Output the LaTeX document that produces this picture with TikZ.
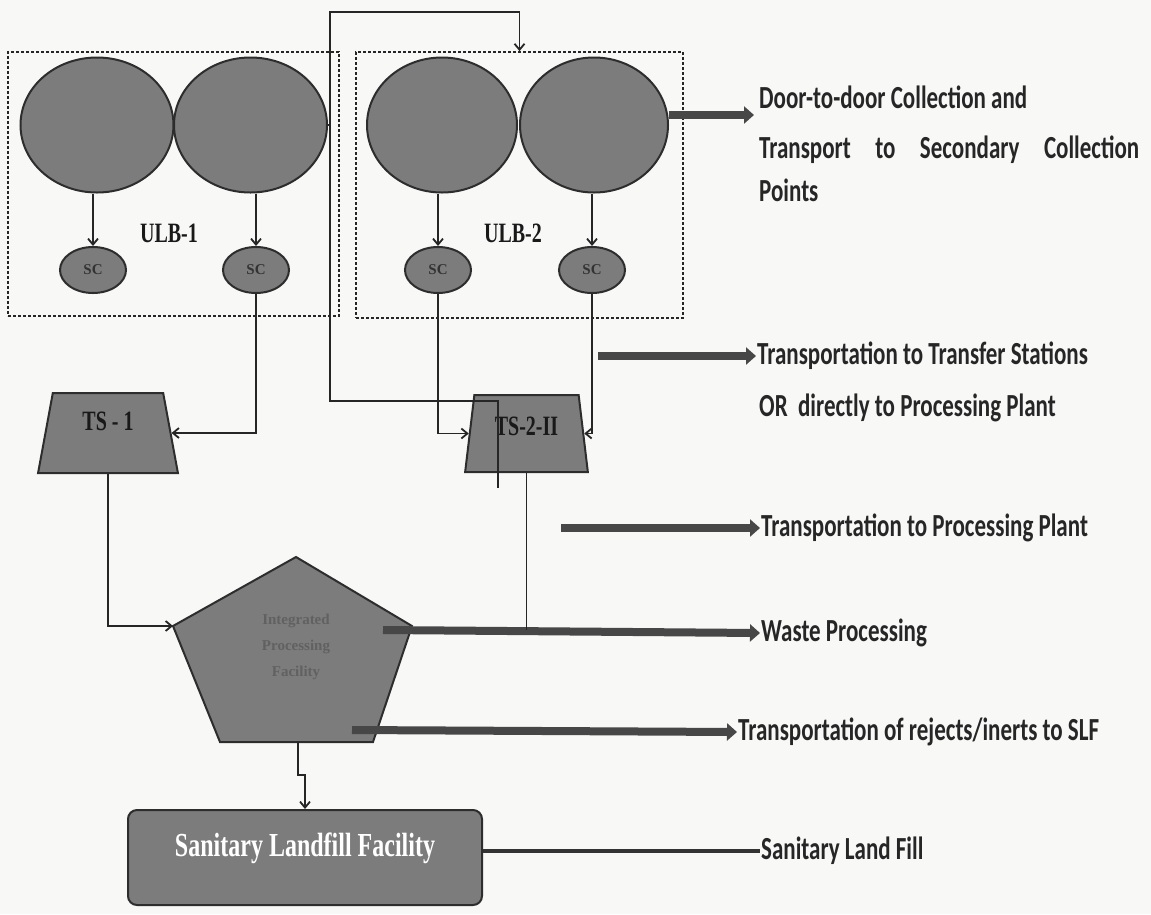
\documentclass[tikz,border=0pt]{standalone}
\usepackage{fontspec}
\setmainfont{Liberation Serif}
\newfontfamily\notefont{Carlito}
\usetikzlibrary{arrows.meta,shapes.geometric,positioning}
\definecolor{paper}{RGB}{248,248,247}
\definecolor{blobfill}{RGB}{124,124,124}
\definecolor{blobedge}{RGB}{45,45,45}
\newcommand{\tall}[1]{\scalebox{1}[1.4]{#1}}

\begin{document}
\begin{tikzpicture}[x=1pt, y=-1pt,
    blob/.style={draw=blobedge, line width=2pt, fill=blobfill},
    house/.style={blob, ellipse, minimum width=153pt, minimum height=135pt, inner sep=0pt},
    sc/.style={blob, ellipse, minimum width=66pt, minimum height=46pt, inner sep=0pt,
      text=black!80, font=\bfseries\fontsize{15}{15}\selectfont},
    ts/.style={blob, trapezium, trapezium stretches=true, trapezium angle=81, inner sep=2pt,
      text=black!90, font=\bfseries\fontsize{20}{20}\selectfont},
    ulbbox/.style={draw=black!85, line width=1.7pt, dash pattern=on 3pt off 2pt, inner sep=0pt},
    feed/.style={draw=black!85, line width=1.8pt, -{Straight Barb[length=6pt, width=10pt]}},
    wire/.style={draw=black!85, line width=1.8pt},
    bigarrow/.style={draw=black!72, line width=8pt, -{Triangle[length=10pt, width=17pt]}},
    note/.style={anchor=west, inner sep=1pt, text=black!85,
      font=\notefont\bfseries\fontsize{23}{23}\selectfont},
    tag/.style={inner sep=1pt, text=black!90, font=\bfseries\fontsize{20}{20}\selectfont}
  ]
  % the paper
  \fill[paper] (0,0) rectangle (1151,914);
  % the two ULB groups
  \node[ulbbox, minimum width=331pt, minimum height=264pt] (ulb1) at (173.5,184) {};
  \node[ulbbox, minimum width=327pt, minimum height=266pt] (ulb2) at (519.5,185) {};
  \node[house] (c1) at (97,125) {};
  \node[house] (c2) at (250.5,125) {};
  \node[house, minimum width=150pt] (c3) at (442,125) {};
  \node[house, minimum width=148pt] (c4) at (594,125) {};
  \node[tag] (g1) at (169,233) {\tall{ULB-1}};
  \node[tag] (g2) at (513,233) {\tall{ULB-2}};
  % secondary collection points
  \node[sc] (s1) at (93,270) {SC};
  \node[sc] (s2) at (256,270) {SC};
  \node[sc] (s3) at (438,270) {SC};
  \node[sc] (s4) at (592,270) {SC};
  \foreach \i in {1,...,4}
    \draw[feed] (s\i.north |- c\i.south) -- (s\i.north);
  % transfer stations
  \node[ts, minimum width=140pt, minimum height=80pt] (ts1) at (108,433)
    {\raisebox{24pt}{\tall{TS - 1}}};
  \node[ts, minimum width=123pt, minimum height=77pt] (ts2) at (526.5,433.5)
    {\raisebox{15pt}{\tall{TS-2-II}}};
  \draw[feed] (s2.south) |- (ts1.east);
  \draw[feed] (s3.south) |- (ts2.west);
  \draw[feed] (s4.south) |- (ts2.east);
  % the line round the top, and the one into TS-2
  \coordinate (jn) at (330,125);
  \coordinate (tstick) at (498,488);
  \draw[feed] (c2.east) -- (jn) -- (330,12) -| (ulb2.north);
  \draw[wire] (jn) -- (330,401) -| (tstick);
  % the processing plant
  \draw[blob] (296,557) coordinate (ptop) -- (412,626) coordinate (pright)
    -- (373,742) coordinate (pbr) -- (220,742) coordinate (pbl)
    -- (173,626) coordinate (pleft) -- cycle;
  \node[align=center, text=black!62, font=\bfseries\fontsize{15}{26}\selectfont]
    (plant) at (296,647) {Integrated\\Processing\\Facility};
  \coordinate (pbot) at (298,742);
  \draw[feed] (ts1.south) |- (pleft);
  % the landfill
  \node[blob, rectangle, rounded corners=9pt, minimum width=354pt, minimum height=95pt,
    text=white, font=\bfseries\fontsize{24}{24}\selectfont]
    (slf) at (305,857.5) {\raisebox{25pt}{\tall{Sanitary Landfill Facility}}};
  \draw[feed] (pbot) -- (298,775) -| (slf.north);
  % the notes on the right
  \node[note] (door1) at (758,97) {\tall{Door-to-door Collection and}};
  \node[note] (door2) at (758,150) {\tall{\makebox[380pt][s]{Transport\hfill to\hfill Secondary\hfill Collection}}};
  \node[note] (door3) at (758,190) {\tall{Points}};
  \node[note] (tf1) at (756,356) {\tall{Transportation to Transfer Stations}};
  \node[note] (tf2) at (758,408) {\tall{OR~ directly to Processing Plant}};
  \node[note] (pp) at (760,528) {\tall{Transportation to Processing Plant}};
  \node[note] (wp) at (760,633) {\tall{Waste Processing}};
  \node[note] (rj) at (737,732) {\tall{Transportation of rejects/inerts to SLF}};
  \node[note] (sl) at (760,851) {\tall{Sanitary Land Fill}};
  % the broad arrows
  \coordinate (a1) at (754,115);
  \coordinate (tfs) at (598,356);
  \coordinate (pps) at (561,528);
  \coordinate (wps) at (383,630);
  \coordinate (rjs) at (352,730);
  \draw[bigarrow] (c4.east |- a1) -- (a1);
  \draw[bigarrow] (tfs) -- (tf1.west);
  \draw[bigarrow] (pps) -- (pp.west);
  \draw[bigarrow] (wps) -- (wp.west);
  \draw[bigarrow] (rjs) -- (rj.west);
  \draw[wire] (ts2.south) -- (ts2.south |- wps);
  \draw[draw=black!80, line width=3.5pt] (slf.east |- sl.west) -- (sl.west);
\end{tikzpicture}
\end{document}
